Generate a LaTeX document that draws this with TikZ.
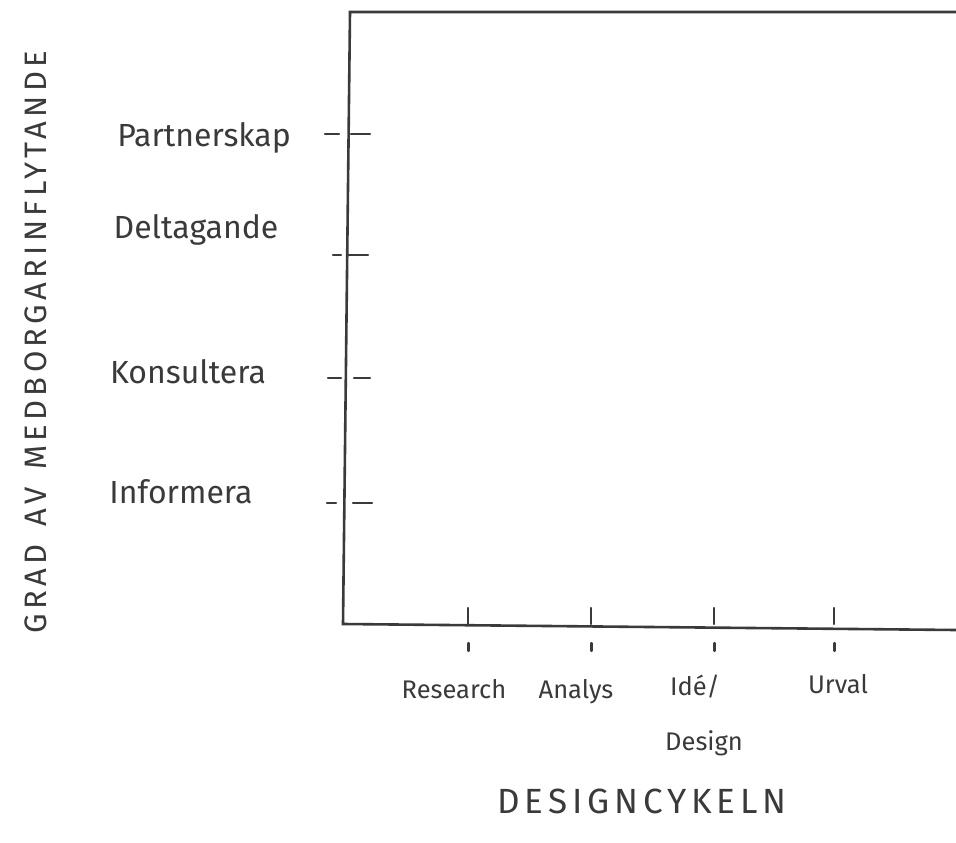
\documentclass[tikz,border=0pt]{standalone}
\usepackage{fontspec}
\setmainfont{Fira Sans}
\newfontfamily\capsfont[LetterSpace=14]{Fira Sans}
\begin{document}
\begin{tikzpicture}[x=1pt,y=-1pt,
  ink/.style={draw=inkgray, line width=2.6pt, line cap=round},
  tickmark/.style={draw=inkgray, line width=2.2pt, line cap=round},
  level/.style={text=inkgray, font=\fontsize{32}{36}\selectfont, anchor=center},
  phase/.style={text=inkgray, font=\fontsize{25.5}{30}\selectfont, anchor=center, align=left},
  axistitle/.style={text=inkgray, font=\capsfont\fontsize{35}{38}\selectfont, anchor=center}]
\definecolor{inkgray}{HTML}{3A3A3A}
\useasboundingbox (0,0) rectangle (956,843);

% frame of the chart, open on the right
\coordinate (tr) at (956,12);
\coordinate (tl) at (350,12);
\coordinate (bl) at (343,624);
\coordinate (br) at (956,630);
\draw[ink] (tr) -- (tl) -- (bl) -- (br);

% participation levels on the vertical axis
\foreach \name/\txt/\ly/\ty/\tx/\la/\lb/\ra/\rb in {
   p/Partnerskap/134/138/204/325/339/351/370,
   d/Deltagande/255/230/196/333/341/347/368,
   k/Konsultera/378/372/188/328/341/354/370,
   i/Informera/503/492/181/327/336/353/372}{
  \draw[tickmark] (\la,\ly) -- (\lb,\ly);
  \draw[tickmark] (\ra,\ly) -- (\rb,\ly);
  \node[level] (\name) at (\tx,\ty) {\txt};
}

% phases of the design cycle on the horizontal axis
\foreach \name/\px in {r/468, a/591, id/714, u/834}{
  \draw[tickmark] (\px,608) -- (\px,624);
  \draw[tickmark] (\px+0.5,643) -- (\px+0.5,651);
}
\node[phase] (research) at (454,689) {Research};
\node[phase] (analys) at (576,692) {Analys};
\node[phase] (ide) at (695,687) {Idé/};
\node[phase] (design) at (704,743) {Design};
\node[phase] (urval) at (838,684) {Urval};

% axis titles
\node[axistitle] (xtitle) at (642,801) {DESIGNCYKELN};
\node[axistitle, font=\capsfont\fontsize{31}{34}\selectfont, rotate=90] (ytitle) at (36,342) {GRAD\, AV\, MEDBORGARINFLYTANDE};
\end{tikzpicture}
\end{document}
